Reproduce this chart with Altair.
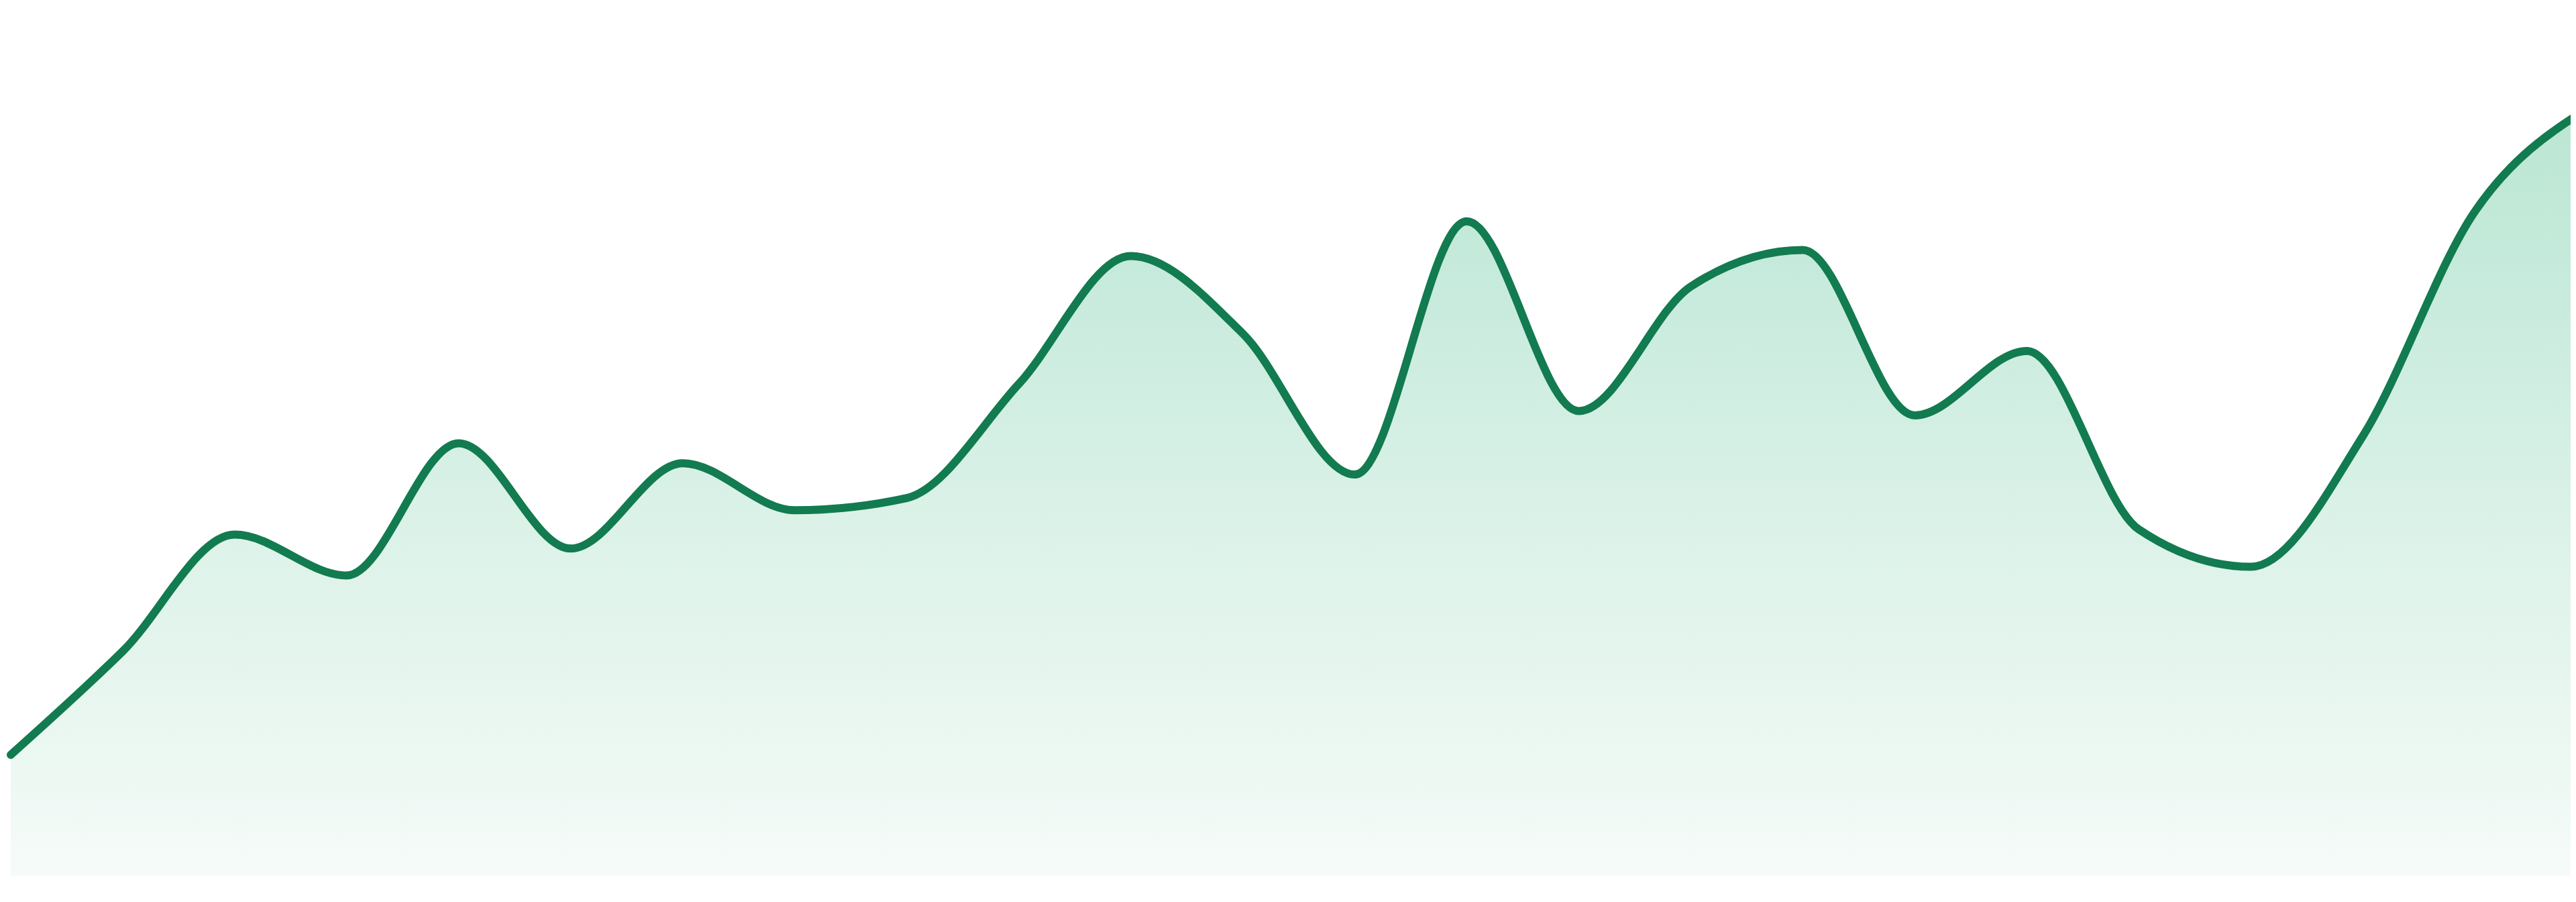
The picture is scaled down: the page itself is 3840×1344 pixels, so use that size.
import altair as alt
import pandas as pd

# Data (24 equally spaced samples)
idx = list(range(24))
values = [13.9, 25.8, 39.2, 34.5, 49.7, 37.6, 47.4, 42.0, 43.4, 56.5, 71.2, 62.3,
          46.1, 75.2, 53.4, 67.7, 71.9, 52.9, 60.3, 39.8, 35.5, 50.5, 76.3, 88.1]

LINE_COLOR = "#127b50"
STOPS = [
    ("#bce6d3", 0.0),
    ("#c5eadb", 0.2),
    ("#dcf2e8", 0.55),
    ("#ecf8f2", 0.85),
    ("#f6fbf9", 1.0),
]

df = pd.DataFrame({"i": idx, "v": values})

x_enc = alt.X("i:Q", axis=None,
              scale=alt.Scale(domain=[-0.0479, 22.856], nice=False, zero=False))
y_enc = alt.Y("v:Q", axis=None, scale=alt.Scale(domain=[0, 100], nice=False))

base = alt.Chart(df).encode(x=x_enc, y=y_enc)

area = base.mark_area(
    interpolate="monotone",
    clip=True,
    color=alt.Gradient(
        gradient="linear",
        stops=[alt.GradientStop(color=c, offset=o) for c, o in STOPS],
        x1=1, x2=1, y1=0, y2=1,
    ),
)

line = base.mark_line(
    interpolate="monotone",
    clip=True,
    color=LINE_COLOR,
    strokeWidth=12,
    strokeJoin="round",
    strokeCap="round",
)

chart = (
    alt.layer(area, line)
    .properties(width=3824, height=1297, padding=0, autosize="none", background="white")
    .configure_view(strokeWidth=0)
)

chart.save("out.html", embed_options={"renderer": "svg", "actions": False})
